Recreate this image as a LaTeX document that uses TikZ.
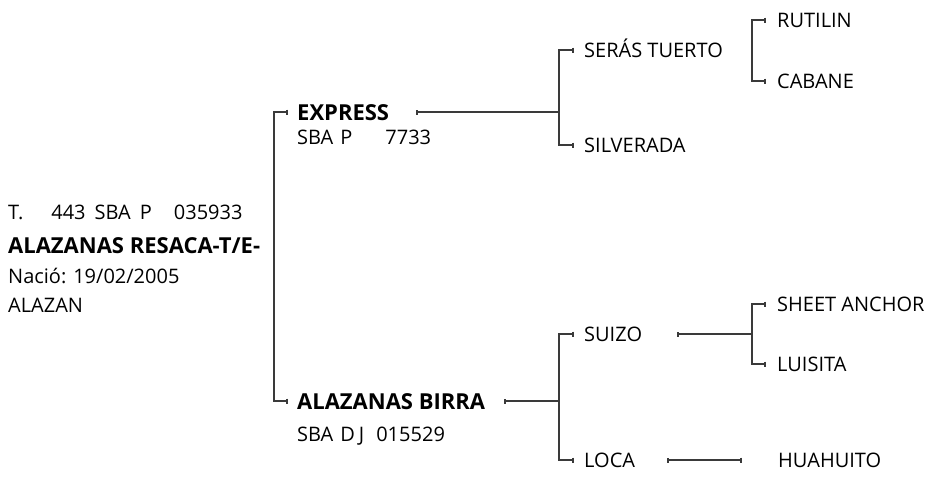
\documentclass[tikz,border=0pt]{standalone}
\usepackage{fontspec}
\setmainfont{Open Sans}
\usetikzlibrary{positioning,arrows.meta}
\definecolor{linegray}{HTML}{3A3A3A}
\newcommand{\regfont}{\fontsize{20}{24}\selectfont}
\newcommand{\namefont}{\fontsize{22}{26}\selectfont\bfseries}

\begin{document}
\begin{tikzpicture}[
    x=1pt, y=-1pt,
    every node/.style={inner sep=0pt, anchor=west, text height=14.5pt, text depth=0pt, font=\regfont},
    boldname/.style={font=\namefont, text height=16pt},
    linkline/.style={draw=linegray, line width=1.3pt},
    tickline/.style={linkline, -{Bar[width=5pt, line width=1.8pt]}},
    barstart/.style={linkline, {Bar[width=5pt, line width=1.8pt]}-},
    barboth/.style={linkline, {Bar[width=5pt, line width=1.8pt]}-{Bar[width=5pt, line width=1.8pt]}}
  ]
  \useasboundingbox (0,0) rectangle (929,477);

  % the horse itself
  \node (rootreg) at (8,212.5) {T.\hspace{28pt}443\hspace{9pt}SBA\hspace{9pt}P\hspace{22pt}035933};
  \node[boldname, below=17pt of rootreg.south west, anchor=north west] (root) {ALAZANAS RESACA-T/E-};
  \node[below=15pt of root.south west, anchor=north west] (birth) {Nació: 19/02/2005};
  \node[below=15pt of birth.south west, anchor=north west] (coat) {ALAZAN};

  % parents
  \node[boldname] (exp) at (297,112) {EXPRESS};
  \node[below=10pt of exp.south west, anchor=north west] (expreg) {SBA\hspace{7pt}P\hspace{33pt}7733};
  \node[boldname] (bir) at (297,401) {ALAZANAS BIRRA};
  \node[below=18pt of bir.south west, anchor=north west] (birreg) {SBA\hspace{7pt}D\hspace{4pt}J\hspace{12pt}015529};

  % grandparents
  \node (ser) at (584,50) {SERÁS TUERTO};
  \node (sil) at (584,145) {SILVERADA};
  \node (sui) at (584,334) {SUIZO};
  \node (loc) at (584,460) {LOCA};

  % great-grandparents
  \node (rut) at (777,20) {RUTILIN};
  \node (cab) at (777,81) {CABANE};
  \node (she) at (777,304) {SHEET ANCHOR};
  \node (lui) at (777,364) {LUISITA};
  \node (hua) at (778,460) {HUAHUITO};

  % joints and line starts
  \coordinate (jroot) at (274,257);
  \coordinate (jexp) at (559,112);
  \coordinate (jbir) at (559,401);
  \coordinate (jser) at (752,50);
  \coordinate (jsui) at (752,334);
  \coordinate (expbar) at (416,112);
  \coordinate (birbar) at (504,401);
  \coordinate (suibar) at (677,334);
  \coordinate (locbar) at (667,460);
  \coordinate (locend) at (742,460);

  % --- brackets ---
  \draw[tickline] (jroot) |- ([xshift=-9pt]exp.west);
  \draw[tickline] (jroot) |- ([xshift=-9pt]bir.west);

  \draw[barstart] (expbar) -- (jexp);
  \draw[tickline] (jexp) |- ([xshift=-10pt]ser.west);
  \draw[tickline] (jexp) |- ([xshift=-10pt]sil.west);

  \draw[barstart] (birbar) -- (jbir);
  \draw[tickline] (jbir) |- ([xshift=-10pt]sui.west);
  \draw[tickline] (jbir) |- ([xshift=-10pt]loc.west);

  \draw[tickline] (jser) |- ([xshift=-11pt]rut.west);
  \draw[tickline] (jser) |- ([xshift=-11pt]cab.west);

  \draw[barstart] (suibar) -- (jsui);
  \draw[tickline] (jsui) |- ([xshift=-11pt]she.west);
  \draw[tickline] (jsui) |- ([xshift=-11pt]lui.west);

  \draw[barboth] (locbar) -- (locend);

\end{tikzpicture}
\end{document}
